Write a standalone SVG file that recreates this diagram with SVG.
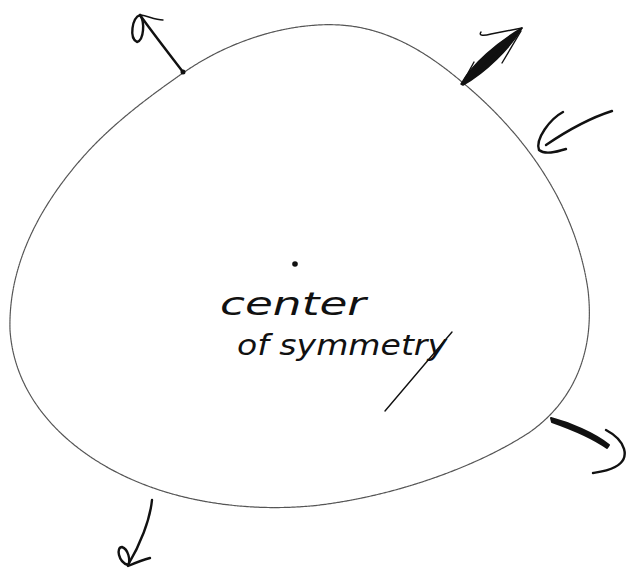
<svg xmlns="http://www.w3.org/2000/svg" width="631" height="571" viewBox="0 0 631 571">
<style>
.outline{fill:none;stroke:#555;stroke-width:1.2;stroke-linecap:round;stroke-dasharray:2 0.6}
.ink{fill:none;stroke:#111;stroke-width:2.4;stroke-linecap:round;stroke-linejoin:round}
.thin{fill:none;stroke:#111;stroke-width:1.4;stroke-linecap:round;stroke-linejoin:round}
.hand{font-family:"DejaVu Sans","Liberation Sans",sans-serif;font-style:italic;fill:#111}
</style>
<rect width="631" height="571" fill="#fff"/>
<g id="blob">
<path class="outline" d="M183,73 C230,40 290,22 340,25 C390,28 430,55 462,82 C520,130 575,200 588,290 C595,350 575,400 530,432 C480,465 400,495 320,505 C260,512 190,505 133,480 C75,455 15,405 10,330 C8,260 45,200 83,157 C112,124 150,96 183,73 Z"/>
</g>
<g id="label">
<circle cx="295" cy="264" r="2.8" fill="#111"/>
<text class="hand" x="220" y="315" font-size="32" textLength="146" lengthAdjust="spacingAndGlyphs">center</text>
<text class="hand" x="237" y="355" font-size="28" textLength="210" lengthAdjust="spacingAndGlyphs">of symmetry</text>
<path class="thin" d="M385,411 L452,332"/>
</g>
<g id="connectors">
<g id="arrow-top-left">
<path class="ink" d="M183,72 C170,55 152,32 140,15"/>
<path class="ink" d="M140,15 C132,18 129,38 137,42 C144,40 145,22 140,15"/>
<path class="thin" d="M141,15 C148,16 155,20 163,20"/>
<circle cx="183" cy="72" r="2.5" fill="#111"/>
</g>
<g id="arrow-top-right">
<path d="M461,84 C472,64 498,42 522,28 C510,48 486,72 463,85 Z" fill="#111" stroke="#111" stroke-width="1.5" stroke-linejoin="round"/>
<path class="thin" d="M470,78 L520,30 M502,63 L521,31 M474,62 L462,84"/>
<path class="thin" d="M522,28 L491,34 C484,36 478,36 481,32"/>
</g>
<g id="arrow-right">
<path class="ink" d="M563,112 C550,119 535,139 539,150 C545,155 556,152 566,149"/>
<path class="ink" d="M546,145 C568,130 590,118 612,111"/>
</g>
<g id="arrow-bottom-right">
<path d="M551,418 C570,423 594,433 609,445 L607,448 C593,438 569,428 552,422 Z" fill="#111" stroke="#111" stroke-width="2" stroke-linejoin="round"/>
<path class="ink" d="M606,430 C625,440 632,458 615,467 C608,471 600,472 593,473"/>
</g>
<g id="arrow-bottom-left">
<path class="ink" d="M152,500 C150,520 140,545 128,565"/>
<path class="ink" d="M128,565 C118,562 116,547 122,547 C128,549 131,560 128,566 C135,563 142,560 150,558"/>
</g>
</g>
</svg>
